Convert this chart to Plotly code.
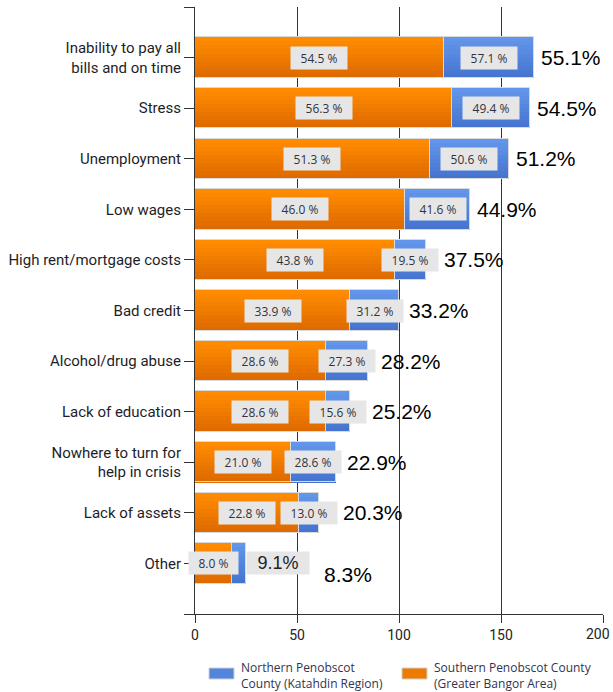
import plotly.graph_objects as go

# Survey: barriers to financial stability, by region
categories = [
    "Inability to pay all<br>bills and on time",
    "Stress",
    "Unemployment",
    "Low wages",
    "High rent/mortgage costs",
    "Bad credit",
    "Alcohol/drug abuse",
    "Lack of education",
    "Nowhere to turn for<br>help in crisis",
    "Lack of assets",
    "Other",
]
south_pct = [54.5, 56.3, 51.3, 46.0, 43.8, 33.9, 28.6, 28.6, 21.0, 22.8, 8.0]
north_pct = [57.1, 49.4, 50.6, 41.6, 19.5, 31.2, 27.3, 15.6, 28.6, 13.0, 9.1]
total_pct = [55.1, 54.5, 51.2, 44.9, 37.5, 33.2, 28.2, 25.2, 22.9, 20.3, 8.3]

# respondents in each region
south_n = 224
north_n = 77

x_ticks = [0, 50, 100, 150, 200]

south_name = "Southern Penobscot County<br>(Greater Bangor Area)"
north_name = "Northern Penobscot<br>County (Katahdin Region)"

# bar lengths are respondent counts
south_cnt = [round(p * south_n / 100) for p in south_pct]
north_cnt = [round(p * north_n / 100) for p in north_pct]
total_cnt = [s + n for s, n in zip(south_cnt, north_cnt)]

ypos = list(range(len(categories)))

W, H = 613, 692
ML, MR, MT, MB = 195, 10, 7, 78
PW, PH = W - ML - MR, H - MT - MB
X_MAX = x_ticks[-1]
UNIT = PW / X_MAX  # pixels per count


def px(x):
    return (x - ML) / PW


def py(y):
    return (H - MB - y) / PH


def mix(c1, c2, t):
    return "rgb({},{},{})".format(*[round(a + (b - a) * t) for a, b in zip(c1, c2)])


ORANGE_TOP, ORANGE_BOT = (255, 140, 0), (222, 106, 0)
BLUE_TOP, BLUE_BOT = (98, 150, 234), (70, 116, 208)

BAR_W = 0.8
BANDS = 10
bw = BAR_W / BANDS

fig = go.Figure()


def add_series(counts, bases, ctop, cbot):
    # vertical shading built from thin bands, then a light outline
    for k in range(BANDS):
        fig.add_trace(go.Bar(
            y=ypos, x=counts, base=bases, orientation="h",
            width=bw * 1.02, offset=-BAR_W / 2 + k * bw,
            marker=dict(color=mix(ctop, cbot, k / (BANDS - 1)), line=dict(width=0)),
            showlegend=False, hoverinfo="skip",
        ))
    fig.add_trace(go.Bar(
        y=ypos, x=counts, base=bases, orientation="h",
        width=BAR_W, offset=-BAR_W / 2,
        marker=dict(color="rgba(0,0,0,0)", line=dict(color="#dadada", width=1)),
        showlegend=False, hoverinfo="skip",
    ))


add_series(south_cnt, [0] * len(ypos), ORANGE_TOP, ORANGE_BOT)
add_series(north_cnt, south_cnt, BLUE_TOP, BLUE_BOT)

annotations = []
seg_font = dict(family="Open Sans, Roboto, sans-serif", size=12, color="#333340")
big_font = dict(family="Liberation Sans, Arial, sans-serif", size=21, color="#000")
tick_font = dict(family="Roboto, sans-serif", size=14, color="#222")


def box_w(text):
    return 7 * len(text) + 12


def seg_label(x, y, text, **kw):
    d = dict(x=x, y=y, xref="x", yref="y", text=text, showarrow=False,
             bgcolor="#e6e6e6", font=seg_font, width=box_w(text), height=20,
             xanchor="center", yanchor="middle")
    d.update(kw)
    annotations.append(d)


last = len(categories) - 1
for i in ypos:
    s, n = south_cnt[i], north_cnt[i]
    seg_label(s / 2, i, f"{south_pct[i]:.1f} %")
    if i == last:
        seg_label(s + n / 2, i, f"{north_pct[i]:.1f}%", xshift=39,
                  font=dict(family="Liberation Sans, Arial, sans-serif", size=18, color="#222"),
                  width=60, height=20)
        tot_shift, tot_yshift = 76, -11
    else:
        text = f"{north_pct[i]:.1f} %"
        seg_label(s + n / 2, i, text)
        # keep the total clear of the segment label box
        overhang = (s + n / 2) * UNIT + box_w(text) / 2 - total_cnt[i] * UNIT
        tot_shift, tot_yshift = max(0, overhang) + 5, 0
    annotations.append(dict(
        x=total_cnt[i], y=i, xref="x", yref="y", text=f"{total_pct[i]:.1f}%",
        showarrow=False, xanchor="left", yanchor="middle",
        xshift=tot_shift, yshift=tot_yshift, font=big_font))

# last x tick label is set flush with the right edge of the page
annotations.append(dict(x=1, y=py(634), xref="paper", yref="paper", text=str(x_ticks[-1]),
                        showarrow=False, xanchor="right", yanchor="middle", xshift=MR - 1,
                        font=tick_font))

# legend drawn as swatches with text
legend_font = dict(family="Open Sans, Roboto, sans-serif", size=12, color="#33334d")
shapes = []
for x0, ctop, cbot, name in [(209, BLUE_TOP, BLUE_BOT, north_name),
                              (402, ORANGE_TOP, ORANGE_BOT, south_name)]:
    shapes.append(dict(type="rect", xref="paper", yref="paper",
                       x0=px(x0), x1=px(x0 + 25), y0=py(679), y1=py(668),
                       fillcolor=mix(ctop, cbot, 0.5), line=dict(color="#d0d0d0", width=1)))
    annotations.append(dict(x=px(x0 + 30), y=py(675), xref="paper", yref="paper",
                            text=name, showarrow=False, xanchor="left", yanchor="middle",
                            align="left", font=legend_font))

fig.update_layout(
    width=W, height=H,
    margin=dict(l=ML, r=MR, t=MT, b=MB, pad=0, autoexpand=False),
    paper_bgcolor="white", plot_bgcolor="white",
    barmode="overlay", bargap=0,
    showlegend=False,
    annotations=annotations,
    shapes=shapes,
    xaxis=dict(
        range=[0, X_MAX], tickvals=x_ticks,
        ticktext=[str(v) for v in x_ticks[:-1]] + [""],
        ticks="outside", ticklen=8,
        tickcolor="#333", showline=True, linecolor="#333", linewidth=1,
        showgrid=True, gridcolor="#333", gridwidth=1, zeroline=False,
        automargin=False, tickfont=tick_font,
    ),
    yaxis=dict(
        range=[len(categories), -1],
        tickvals=[-1] + ypos + [len(categories)],
        ticktext=[""] + categories + [""],
        ticks="outside", ticklen=10, tickcolor="#333",
        showline=True, linecolor="#333", linewidth=1,
        showgrid=False, zeroline=False, automargin=False,
        tickfont=dict(family="Roboto, sans-serif", size=15, color="#1e1e28"),
    ),
)

fig.write_html("out.html")
